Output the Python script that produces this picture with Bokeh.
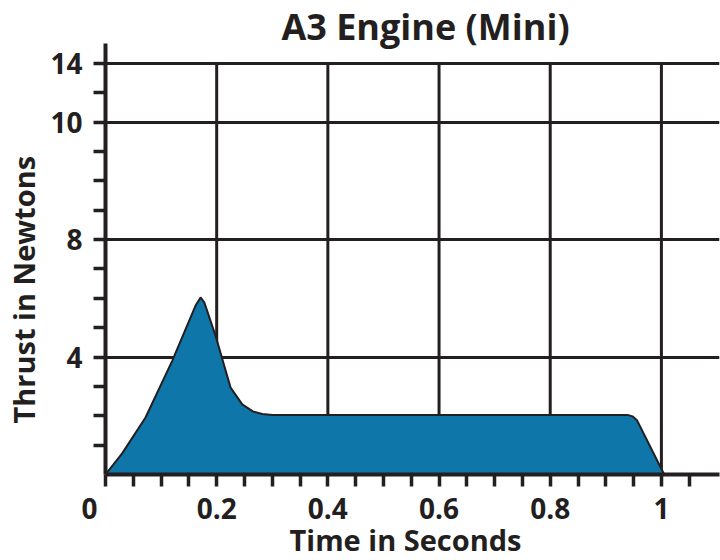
import math
from bokeh.plotting import figure
from bokeh.models import Range1d, FixedTicker, Label, Title
from bokeh.embed import file_html
from bokeh.resources import INLINE

# ---- data ----
time_s = [0.0, 0.03, 0.072, 0.12, 0.162, 0.171, 0.178, 0.198, 0.225, 0.246,
          0.265, 0.282, 0.30, 0.50, 0.70, 0.90, 0.939, 0.948, 0.956, 1.005]
thrust_n = [0.0, 0.72, 1.94, 3.87, 5.75, 6.03, 5.85, 4.72, 2.96, 2.39,
            2.15, 2.06, 2.03, 2.03, 2.03, 2.03, 2.03, 1.98, 1.85, 0.0]

x_major_ticks = [0, 0.2, 0.4, 0.6, 0.8, 1.0]
x_tick_labels = ["0\u2007\u2007", "0.2", "0.4", "0.6", "0.8", "1"]
x_minor_ticks = [0.05, 0.1, 0.15, 0.25, 0.3, 0.35, 0.45, 0.5, 0.55, 0.65,
                 0.7, 0.75, 0.85, 0.9, 0.95, 1.05]
x_grid = [0.2, 0.4, 0.6, 0.8, 1.0]

y_major_ticks = [4, 8, 12, 14]
y_tick_labels = ["4", "8", "10", "14"]
y_minor_ticks = [1, 2, 3, 5, 6, 7, 9, 10, 11, 13]
grid_top = 14
y_axis_top = 14.69

title_text = "A3 Engine (Mini)"
x_title = "Time in Seconds"
y_title = "Thrust in Newtons"

INK = "#231f20"
FILL = "#0e76a8"
FONT = "Open Sans"

p = figure(width=720, height=560, output_backend="svg", toolbar_location=None,
           x_range=Range1d(0, 1.1045), y_range=Range1d(0, 16.14),
           min_border_left=103, min_border_right=1, min_border_top=0,
           min_border_bottom=86, title=None)
p.outline_line_color = None
p.background_fill_color = "white"

# vertical grid lines (stop at top tick)
p.segment(x0=x_grid, x1=x_grid, y0=[0] * len(x_grid), y1=[grid_top] * len(x_grid),
          line_color=INK, line_width=3)
p.xgrid.visible = False
p.ygrid.grid_line_color = INK
p.ygrid.grid_line_width = 3

# thrust curve
p.patch(time_s, thrust_n, fill_color=FILL, line_color=INK, line_width=2)

for ax in (p.xaxis[0], p.yaxis[0]):
    ax.axis_line_color = INK
    ax.axis_line_width = 4
    ax.major_tick_line_color = INK
    ax.minor_tick_line_color = INK
    ax.major_tick_line_width = 3.5
    ax.minor_tick_line_width = 3.5
    ax.major_tick_in = 0
    ax.minor_tick_in = 0
    ax.major_tick_out = 12
    ax.minor_tick_out = 12
    ax.major_label_text_font = FONT
    ax.major_label_text_font_style = "bold"
    ax.major_label_text_font_size = "28px"
    ax.major_label_text_color = INK

p.xaxis.ticker = FixedTicker(ticks=x_major_ticks, minor_ticks=x_minor_ticks)
p.xaxis.major_label_overrides = dict(zip(x_major_ticks, x_tick_labels))
p.xaxis.major_label_standoff = 2
p.yaxis.ticker = FixedTicker(ticks=y_major_ticks, minor_ticks=y_minor_ticks)
p.yaxis.major_label_overrides = dict(zip(y_major_ticks, y_tick_labels))
p.yaxis.major_label_standoff = 11
p.yaxis.bounds = (0, y_axis_top)

# chart title drawn inside the (extended) frame
p.add_layout(Label(x=320, y=448, x_units="screen", y_units="screen", text=title_text,
                   text_font=FONT, text_font_style="bold", text_font_size="36px",
                   text_color=INK, text_align="center", text_baseline="alphabetic"))

# axis titles
p.add_layout(Title(text=x_title, align="left", offset=184, standoff=-24,
                   text_font=FONT, text_font_style="bold", text_font_size="29px",
                   text_color=INK), "below")
p.add_layout(Title(text=y_title, align="left", offset=51, standoff=6,
                   vertical_align="top",
                   text_font=FONT, text_font_style="bold", text_font_size="29px",
                   text_color=INK), "left")

open("out.html", "w").write(file_html(p, INLINE))
